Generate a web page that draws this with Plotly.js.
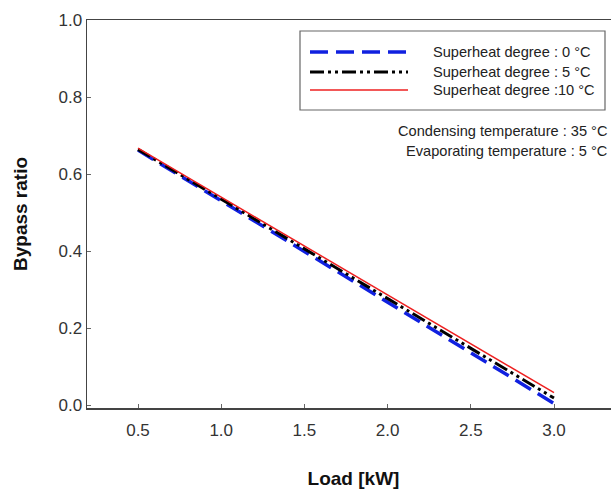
<!DOCTYPE html>
<html>
<head>
<meta charset="utf-8">
<script src="https://cdn.plot.ly/plotly-3.0.1.min.js"></script>
<style>
html,body{margin:0;padding:0;overflow:hidden;background:#fff;}
#chart{width:640px;height:489px;}
</style>
</head>
<body>
<div id="chart"></div>
<script>
// Data
const load = [0.5, 1.0, 1.5, 2.0, 2.5, 3.0];
const sh0  = [0.662, 0.530, 0.398, 0.266, 0.134, 0.004];
const sh5  = [0.664, 0.535, 0.405, 0.276, 0.147, 0.018];
const sh10 = [0.667, 0.540, 0.413, 0.286, 0.159, 0.032];
const seriesNames = ['Superheat degree : 0 \u00B0C', 'Superheat degree : 5 \u00B0C', 'Superheat degree :10 \u00B0C'];
const noteLines = ['Condensing temperature : 35 \u00B0C', 'Evaporating temperature : 5 \u00B0C'];
const xTicks = [0.5, 1.0, 1.5, 2.0, 2.5, 3.0];
const xTickText = ['0.5', '1.0', '1.5', '2.0', '2.5', '3.0'];
const yTicks = [0.0, 0.2, 0.4, 0.6, 0.8, 1.0];
const yTickText = ['0.0', '0.2', '0.4', '0.6', '0.8', '1.0'];

const styles = [
  {color: '#1020e0', width: 3.5, dash: '18px,8px'},
  {color: '#000000', width: 3, dash: '14px,4px,3px,4px,3px,4px'},
  {color: '#ee2020', width: 1.5, dash: 'solid'}
];
const ys = [sh0, sh5, sh10];

const traces = ys.map((y, i) => ({
  x: load, y: y, type: 'scatter', mode: 'lines', name: seriesNames[i],
  line: {color: styles[i].color, width: styles[i].width, dash: styles[i].dash},
  showlegend: false
}));

// Pixel -> paper helpers (plot area: left 87, top 20, width 533, height 388)
const L = 87, T = 20, W = 533, H = 388;
const px = v => (v - L) / W;
const py = v => (T + H - v) / H;
const txtFont = {family: 'Liberation Sans, Arial, sans-serif', size: 14.6, color: '#222'};

const shapes = [
  {type: 'rect', xref: 'paper', yref: 'paper', x0: px(300), x1: px(605), y0: py(110), y1: py(31),
   line: {color: '#666', width: 1.2}, fillcolor: 'rgba(255,255,255,0)'}
];
const rowsY = [52, 72, 90];
const annotations = [];
rowsY.forEach((ry, i) => {
  shapes.push({type: 'line', xref: 'paper', yref: 'paper', x0: px(310), x1: px(408), y0: py(ry), y1: py(ry),
    line: {color: styles[i].color, width: styles[i].width, dash: styles[i].dash}});
  annotations.push({xref: 'paper', yref: 'paper', x: px(431), y: py(ry), xanchor: 'left', yanchor: 'middle',
    text: seriesNames[i], showarrow: false, font: txtFont});
});
[131, 151].forEach((ry, i) => {
  annotations.push({xref: 'paper', yref: 'paper', x: px(609), y: py(ry), xanchor: 'right', yanchor: 'middle',
    text: noteLines[i], showarrow: false, font: txtFont});
});

const layout = {
  width: 640, height: 489,
  margin: {l: L, r: 640 - L - W, t: T, b: 489 - T - H},
  paper_bgcolor: '#fff', plot_bgcolor: '#fff',
  font: {family: 'Liberation Sans, Arial, sans-serif', color: '#222'},
  xaxis: {
    range: [0.1935, 0.1935 + W / 166.4],
    tickvals: xTicks, ticktext: xTickText,
    ticks: 'inside', ticklen: 4, tickcolor: '#666', tickwidth: 1,
    ticklabelstandoff: 6,
    showline: true, mirror: true, linecolor: '#444', linewidth: 1.5,
    showgrid: false, zeroline: false,
    tickfont: {size: 17, color: '#333'},
    title: {text: '<b>Load [kW]</b>', font: {size: 19, color: '#111'}, standoff: 36}
  },
  yaxis: {
    range: [-0.0078, 1.0],
    tickvals: yTicks, ticktext: yTickText,
    ticks: 'inside', ticklen: 4, tickcolor: '#666', tickwidth: 1,
    showline: true, mirror: true, linecolor: '#444', linewidth: 1.5,
    showgrid: false, zeroline: false,
    tickfont: {size: 17, color: '#333'},
    title: {text: '<b>Bypass ratio</b>', font: {size: 19, color: '#111'}, standoff: 26}
  },
  shapes: shapes,
  annotations: annotations,
  showlegend: false
};

Plotly.newPlot('chart', traces, layout, {displayModeBar: false, staticPlot: true});
</script>
</body>
</html>
